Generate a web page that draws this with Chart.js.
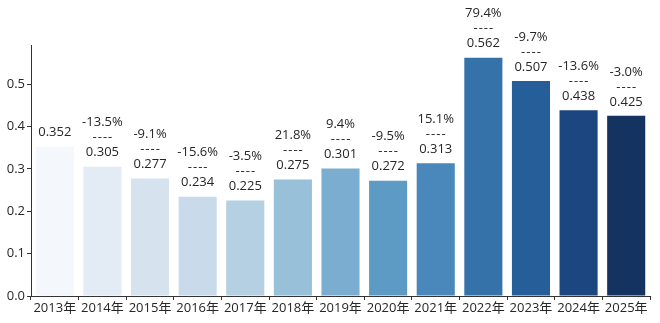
<!DOCTYPE html>
<html>
<head>
<meta charset="utf-8">
<script src="https://cdn.jsdelivr.net/npm/chart.js@4/dist/chart.umd.min.js"></script>
<style>
  html, body { margin: 0; padding: 0; background: #fff; }
  #wrap { width: 660px; height: 323px; }
</style>
</head>
<body>
<div id="wrap"><canvas id="barChart" width="660" height="323"></canvas></div>
<script>
const years = ['2013年', '2014年', '2015年', '2016年', '2017年', '2018年', '2019年',
               '2020年', '2021年', '2022年', '2023年', '2024年', '2025年'];
const values = [0.352, 0.305, 0.277, 0.234, 0.225, 0.275, 0.301, 0.272, 0.313, 0.562, 0.507, 0.438, 0.425];
const growth = [null, '-13.5%', '-9.1%', '-15.6%', '-3.5%', '21.8%', '9.4%', '-9.5%', '15.1%', '79.4%', '-9.7%', '-13.6%', '-3.0%'];
const barColors = ['#f4f8fd', '#e3ebf5', '#d6e3ef', '#c9dbeb', '#b4d0e2', '#98c0d8', '#7aadd0',
                   '#5e9bc4', '#4a87ba', '#3672aa', '#255e98', '#1b4680', '#153361'];

const fontFamily = '"Open Sans", "Noto Sans CJK SC", sans-serif';
const textColor = '#262626';

// labels above bars: growth / dashes / value
const barLabels = {
    id: 'barLabels',
    afterDatasetsDraw(chart) {
        const ctx = chart.ctx;
        const meta = chart.getDatasetMeta(0);
        ctx.save();
        ctx.font = '13px ' + fontFamily;
        ctx.fillStyle = textColor;
        ctx.textAlign = 'center';
        ctx.textBaseline = 'middle';
        meta.data.forEach((bar, i) => {
            const x = bar.x;
            const top = bar.y;
            ctx.fillText(values[i].toFixed(3), x, top - 14);
            if (growth[i]) {
                ctx.letterSpacing = '1px';
                ctx.fillText('----', x + 0.5, top - 29);
                ctx.letterSpacing = '0px';
                ctx.fillText(growth[i], x, top - 44);
            }
        });
        ctx.restore();
    }
};

const chart = new Chart(document.getElementById('barChart').getContext('2d'), {
    type: 'bar',
    data: {
        labels: years,
        datasets: [{
            data: values,
            backgroundColor: barColors,
            borderWidth: 0,
            categoryPercentage: 0.8,
            barPercentage: 1.0
        }]
    },
    options: {
        responsive: false,
        animation: false,
        layout: { padding: { left: 0, right: 10, top: 45, bottom: 0 } },
        plugins: {
            legend: { display: false },
            tooltip: { enabled: false }
        },
        scales: {
            x: {
                grid: { drawOnChartArea: false, drawTicks: true, tickLength: 4, color: '#333' },
                border: { color: '#333', width: 1 },
                ticks: { color: textColor, font: { family: fontFamily, size: 13 }, padding: 0, maxRotation: 0 },
                afterFit(scale) { scale.height = 27; }
            },
            y: {
                min: 0,
                max: 0.592,
                grid: { drawOnChartArea: false, drawTicks: true, tickLength: 4, color: '#333' },
                border: { color: '#333', width: 1 },
                ticks: {
                    stepSize: 0.1,
                    includeBounds: false,
                    color: textColor,
                    padding: 2,
                    font: { family: fontFamily, size: 13 },
                    callback: v => v.toFixed(1)
                },
                afterFit(scale) { scale.width = 31; }
            }
        }
    },
    plugins: [barLabels]
});
</script>
</body>
</html>
